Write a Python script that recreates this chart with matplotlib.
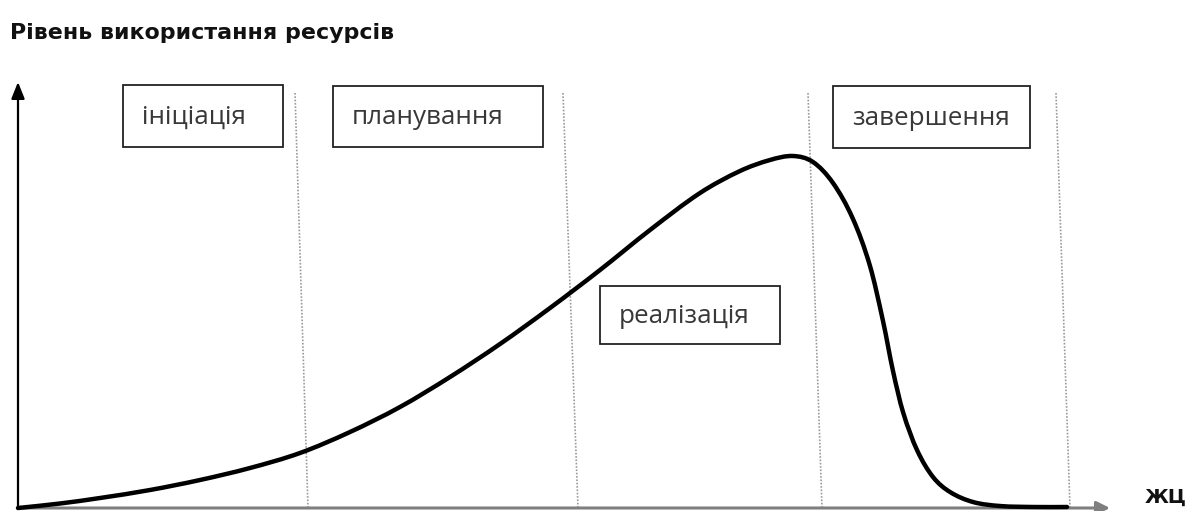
import matplotlib
matplotlib.use("Agg")
import matplotlib.pyplot as plt
from matplotlib.patches import Rectangle, FancyArrowPatch, PathPatch
from matplotlib.path import Path
import numpy as np

# ---- data (x: position along life cycle, y: resource level above the axis) ----
curve_x = [18, 60, 100, 150, 200, 250, 300, 350, 400, 450, 500, 550, 600, 650, 700,
           740, 770, 793, 813, 833, 853, 870, 883, 893, 903, 917, 933, 950, 973,
           1000, 1035, 1067]
curve_y = [0, 4.5, 10, 18, 28, 40, 55, 76, 101, 131, 164, 200, 238, 278, 315,
           337, 348, 352, 346, 325, 289, 242, 187, 137, 96, 58, 31, 16, 6,
           2, 1, 1]

phase_labels = ["ініціація", "планування", "реалізація", "завершення"]
boundary_top_x = [295, 563, 808, 1056]
boundary_bottom_x = [308, 578, 822, 1070]

title_text = "Рівень використання ресурсів"
x_axis_label = "ЖЦ"

# ---- figure ----
W, H = 1187, 511
fig = plt.figure(figsize=(W / 100, H / 100), dpi=100)
ax = fig.add_axes([0, 0, 1, 1])
ax.set_xlim(0, W)
ax.set_ylim(508 - H, 508)
ax.axis("off")

def py(v):
    # pixel row -> data y
    return 508 - v

# phase boundaries (dotted, slightly slanted)
for xt, xb in zip(boundary_top_x, boundary_bottom_x):
    ax.plot([xt, xb], [py(93), py(508)], color="#9a9a9a", lw=1.2,
            linestyle=(0, (1, 1)), zorder=1)

# phase boxes (left, top, right, bottom in pixel rows)
boxes = [(123, 85, 283, 147), (333, 86, 543, 147), (600, 286, 780, 344), (833, 86, 1030, 148)]
for (l, t, r, b), lab in zip(boxes, phase_labels):
    ax.add_patch(Rectangle((l, py(b)), r - l, b - t, facecolor="white",
                           edgecolor="#222222", lw=1.3, zorder=3))
    ax.text(l + 19, py((t + b) / 2) - 1, lab, ha="left", va="center",
            fontsize=18.7, family="Open Sans", color="#383838", zorder=4)

# x axis (grey) with arrow
ax.add_patch(FancyArrowPatch((18, 0), (1110, 0), arrowstyle="-|>,head_length=8,head_width=4",
                             color="#7f7f7f", lw=2.2, mutation_scale=1, zorder=2,
                             shrinkA=0, shrinkB=0))
# y axis (black) with arrow
ax.add_patch(FancyArrowPatch((18, 0), (18, py(82)), arrowstyle="-|>,head_length=10,head_width=4",
                             color="black", lw=1.6, mutation_scale=1, zorder=2,
                             shrinkA=0, shrinkB=0))

# resource curve: smooth cubic Hermite (in x) drawn as a Bezier path through the read points
X = np.asarray(curve_x, float)
Y = np.asarray(curve_y, float)
n = len(X)
m = np.empty(n)
m[0] = (Y[1] - Y[0]) / (X[1] - X[0])
m[-1] = (Y[-1] - Y[-2]) / (X[-1] - X[-2])
for i in range(1, n - 1):
    m[i] = (Y[i + 1] - Y[i - 1]) / (X[i + 1] - X[i - 1])
verts = [(X[0], Y[0])]
codes = [Path.MOVETO]
for i in range(n - 1):
    dx = X[i + 1] - X[i]
    verts += [(X[i] + dx / 3, Y[i] + m[i] * dx / 3),
              (X[i + 1] - dx / 3, Y[i + 1] - m[i + 1] * dx / 3),
              (X[i + 1], Y[i + 1])]
    codes += [Path.CURVE4] * 3
ax.add_patch(PathPatch(Path(verts, codes), facecolor="none", edgecolor="black",
                       lw=3.2, capstyle="round", joinstyle="round", zorder=5))

# texts
ax.text(10, py(33), title_text, ha="left", va="center", fontsize=15.9,
        fontweight="bold", family="DejaVu Sans", color="#111111")
ax.text(1145, py(497), x_axis_label, ha="left", va="center", fontsize=14,
        fontweight="bold", family="DejaVu Sans", color="#111111")

fig.savefig("out.png", dpi=100)
